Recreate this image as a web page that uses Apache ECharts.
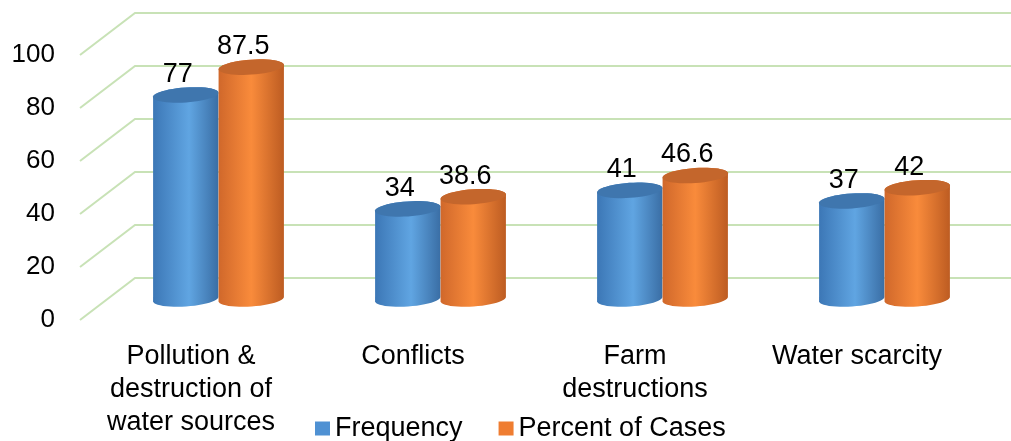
<!DOCTYPE html>
<html>
<head>
<meta charset="utf-8">
<script src="https://cdn.jsdelivr.net/npm/echarts@6/dist/echarts.min.js"></script>
<style>
html, body { margin: 0; padding: 0; background: #fff; }
#chart { width: 1011px; height: 441px; }
</style>
</head>
<body>
<div id="chart"></div>
<script>
const categories = ['Pollution &\ndestruction of\nwater sources', 'Conflicts', 'Farm\ndestructions', 'Water scarcity'];
const frequency = [77, 34, 41, 37];
const percentOfCases = [87.5, 38.6, 46.6, 42];
const yTicks = [0, 20, 40, 60, 80, 100];

// fake 3d: back wall offset from the front plane
const DEPTH_X = 55, DEPTH_Y = -42;
const FONT = "'Liberation Sans', Arial, sans-serif";
const TILT = -0.07;

function ellipsePts(cx, cy, rx, ry, t0, t1, n) {
    const pts = [];
    for (let i = 0; i <= n; i++) {
        const t = t0 + (t1 - t0) * i / n;
        const ex = rx * Math.cos(t), ey = ry * Math.sin(t);
        pts.push([cx + ex * Math.cos(TILT) - ey * Math.sin(TILT),
                  cy + ex * Math.sin(TILT) + ey * Math.cos(TILT)]);
    }
    return pts;
}

function cylinder(side, bodyStops, topColor) {
    return function (params, api) {
        const cat = api.value(0), val = api.value(1);
        const top = api.coord([cat, val]);
        const base = api.coord([cat, 0]);
        const band = api.size([1, 0])[0];
        const w = band * 0.295;
        const rx = w / 2, ry = 7.5;
        const cx = top[0] + DEPTH_X / 2 + (side === 0 ? -rx : rx);
        const ty = top[1] + DEPTH_Y / 2;
        const by = base[1] + DEPTH_Y / 2;
        const body = ellipsePts(cx, ty, rx, ry, Math.PI, 2 * Math.PI, 24)
            .concat(ellipsePts(cx, by, rx, ry, 0, Math.PI, 24));
        return {
            type: 'group',
            children: [{
                type: 'polygon',
                shape: { points: body },
                style: { fill: new echarts.graphic.LinearGradient(0, 0, 1, 0, bodyStops) }
            }, {
                type: 'polygon',
                shape: { points: ellipsePts(cx, ty, rx, ry, 0, 2 * Math.PI, 48) },
                style: { fill: topColor }
            }, {
                type: 'text',
                style: {
                    text: String(val), x: cx - 8, y: ty - 7,
                    align: 'center', verticalAlign: 'bottom',
                    font: '27px ' + FONT, fill: '#000'
                }
            }]
        };
    };
}

const chart = echarts.init(document.getElementById('chart'));

chart.setOption({
    animation: false,
    backgroundColor: '#fff',
    grid: { left: 80, width: 888, top: 55, height: 265 },
    legend: {
        data: ['Frequency', 'Percent of Cases'],
        left: 315, top: 415,
        icon: 'rect', itemWidth: 15, itemHeight: 14, itemGap: 36,
        padding: 0,
        textStyle: { fontSize: 27, fontFamily: FONT, color: '#000' }
    },
    xAxis: {
        type: 'category',
        data: categories,
        axisLine: { show: false },
        axisTick: { show: false },
        axisLabel: {
            interval: 0, margin: 20,
            fontSize: 27, lineHeight: 33, fontFamily: FONT, color: '#000'
        }
    },
    yAxis: {
        type: 'value',
        min: 0, max: 100, interval: 20,
        axisLine: { show: false },
        axisTick: { show: false },
        splitLine: { show: false },
        axisLabel: { margin: 25, fontSize: 26, fontFamily: FONT, color: '#000' }
    },
    series: [{
        type: 'custom',
        silent: true,
        z: 1,
        data: yTicks.map(v => [0, v]),
        renderItem: function (params, api) {
            const y = api.coord([0, api.value(1)])[1];
            const x0 = params.coordSys.x;
            return {
                type: 'polyline',
                shape: { points: [[x0, y], [x0 + DEPTH_X, y + DEPTH_Y], [api.getWidth(), y + DEPTH_Y]] },
                style: { stroke: '#c8e2b6', lineWidth: 2, fill: null }
            };
        }
    }, {
        name: 'Frequency',
        type: 'custom',
        z: 3,
        itemStyle: { color: '#4f91d3' },
        data: frequency.map((v, i) => [i, v]),
        renderItem: cylinder(0, [
            { offset: 0, color: '#3c77b6' },
            { offset: 0.55, color: '#60a5e2' },
            { offset: 1, color: '#3a6ea5' }
        ], '#3f76ae')
    }, {
        name: 'Percent of Cases',
        type: 'custom',
        z: 3,
        itemStyle: { color: '#ef7d31' },
        data: percentOfCases.map((v, i) => [i, v]),
        renderItem: cylinder(1, [
            { offset: 0, color: '#d0682b' },
            { offset: 0.5, color: '#f98b3b' },
            { offset: 1, color: '#bd5c22' }
        ], '#c4662c')
    }]
});
</script>
</body>
</html>
